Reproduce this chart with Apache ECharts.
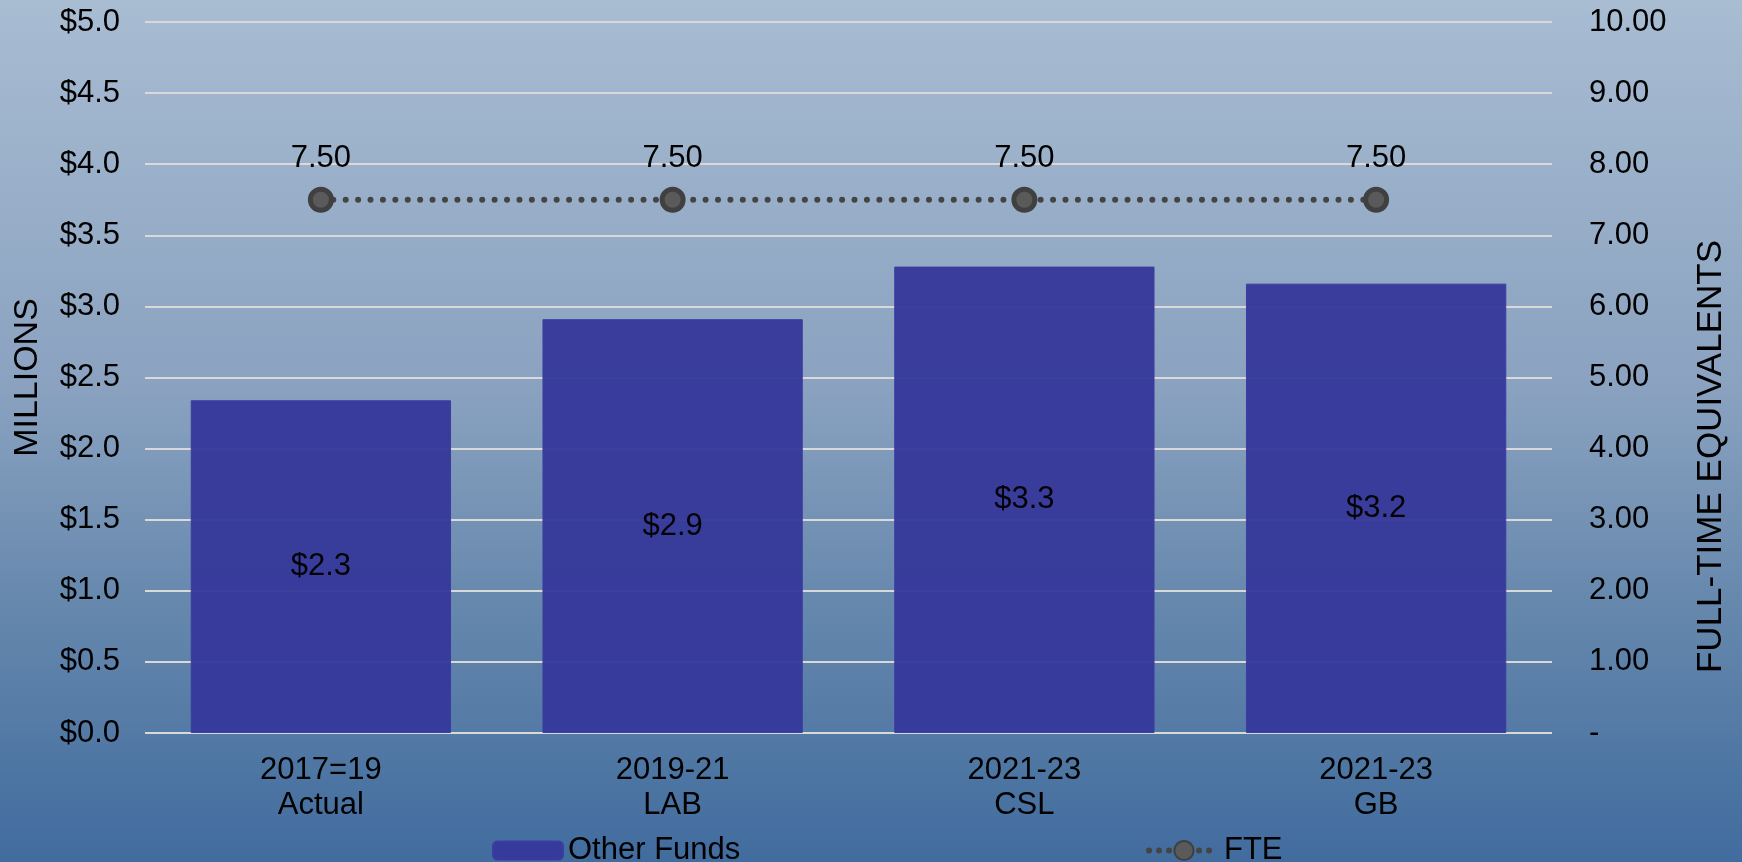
<!DOCTYPE html>
<html>
<head>
<meta charset="utf-8">
<title>Other Funds / FTE</title>
<script src="https://cdn.jsdelivr.net/npm/echarts@6/dist/echarts.min.js"></script>
<style>
  html, body { margin: 0; padding: 0; }
  #chart { width: 1742px; height: 862px; }
</style>
</head>
<body>
<div id="chart"></div>
<script>
// === data ===
const categories = ['2017=19\nActual', '2019-21\nLAB', '2021-23\nCSL', '2021-23\nGB']
const otherFunds = [2.34, 2.91, 3.28, 3.16]   // millions
const fte = [7.5, 7.5, 7.5, 7.5]
const moneyTicks = { min: 0, max: 5, interval: 0.5 }
const fteTicks = { min: 0, max: 10, interval: 1 }

const FONT = 'Liberation Sans, Arial, sans-serif'
const BAR_COLOR = '#36389a'
const LINE_COLOR = '#444444'

const chart = echarts.init(document.getElementById('chart'))

const option = {
  backgroundColor: new echarts.graphic.LinearGradient(0, 0, 0, 1, [
    { offset: 0, color: '#a8bcd2' },
    { offset: 0.45, color: '#8aa2c0' },
    { offset: 0.7, color: '#6688ad' },
    { offset: 1, color: '#416c9e' }
  ]),
  textStyle: { fontFamily: FONT, color: '#000' },
  grid: { left: 145, right: 190, top: 22, bottom: 129 },
  // two legends so each item can sit where it does in the original
  legend: [
    {
      data: ['Other Funds'],
      left: 487, top: 830,
      itemWidth: 70, itemHeight: 18,
      textStyle: { fontSize: 31, color: '#000', fontFamily: FONT }
    },
    {
      data: ['FTE'],
      left: 1141, top: 830,
      itemWidth: 70, itemHeight: 24,
      lineStyle: { color: LINE_COLOR, width: 6, type: [0.01, 10], cap: 'round' },
      textStyle: { fontSize: 31, color: '#000', fontFamily: FONT }
    }
  ],
  xAxis: {
    type: 'category',
    data: categories,
    axisLine: { show: false },
    axisTick: { show: false },
    axisLabel: { fontSize: 31, lineHeight: 35, margin: 20, color: '#000', fontFamily: FONT }
  },
  yAxis: [
    {
      type: 'value',
      min: moneyTicks.min, max: moneyTicks.max, interval: moneyTicks.interval,
      name: 'MILLIONS',
      nameLocation: 'middle',
      nameRotate: 90,
      nameGap: 100,
      nameTextStyle: { fontSize: 34, color: '#000', fontFamily: FONT },
      axisLine: { show: false },
      axisTick: { show: false },
      axisLabel: {
        fontSize: 31, margin: 25, color: '#000', fontFamily: FONT,
        formatter: v => '$' + v.toFixed(1)
      },
      splitLine: { lineStyle: { color: '#d9d9d9', width: 2 } }
    },
    {
      type: 'value',
      position: 'right',
      min: fteTicks.min, max: fteTicks.max, interval: fteTicks.interval,
      name: 'FULL-TIME EQUIVALENTS',
      nameLocation: 'middle',
      nameRotate: 90,
      nameGap: 142,
      nameTextStyle: { fontSize: 35, color: '#000', fontFamily: FONT, padding: [0, 158, 0, 0] },
      axisLine: { show: false },
      axisTick: { show: false },
      axisLabel: {
        fontSize: 31, margin: 37, color: '#000', fontFamily: FONT,
        formatter: v => (v === 0 ? '-' : v.toFixed(2))
      },
      splitLine: { show: false }
    }
  ],
  series: [
    {
      name: 'Other Funds',
      type: 'bar',
      data: otherFunds,
      barWidth: '74%',
      itemStyle: { color: BAR_COLOR, opacity: 0.96, borderColor: '#3a3ca0', borderWidth: 1 },
      label: {
        show: true,
        position: 'inside',
        fontSize: 31, color: '#000', fontFamily: FONT,
        formatter: p => '$' + p.value.toFixed(1)
      }
    },
    {
      name: 'FTE',
      type: 'line',
      yAxisIndex: 1,
      data: fte,
      symbol: 'circle',
      symbolSize: 21,
      itemStyle: { color: '#5a5a5a', borderColor: '#404040', borderWidth: 5 },
      lineStyle: { color: LINE_COLOR, width: 6, type: [0.01, 12.4], cap: 'round' },
      label: {
        show: true,
        position: 'top',
        distance: 13,
        fontSize: 31, color: '#000', fontFamily: FONT,
        formatter: p => p.value.toFixed(2)
      }
    }
  ]
}

chart.setOption(option)
</script>
</body>
</html>
